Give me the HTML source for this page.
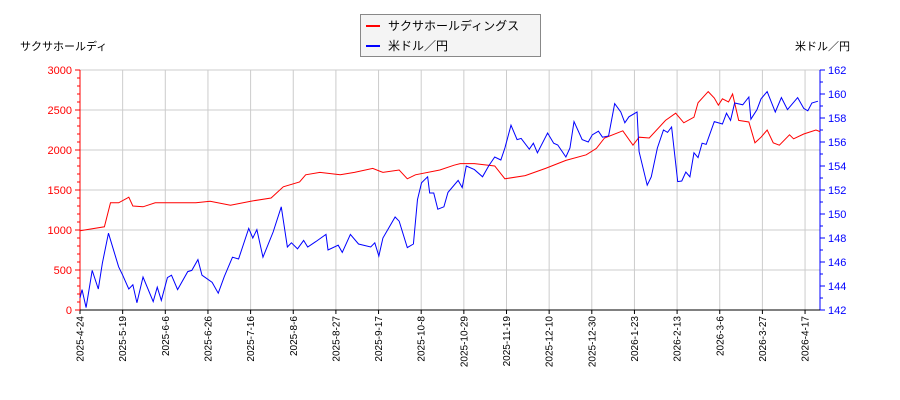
<!DOCTYPE html>
<html><head><meta charset="utf-8"><style>
body{margin:0;background:#fff;}
svg{display:block;font-family:"Liberation Sans","Noto Sans CJK JP",sans-serif;}
</style></head><body>
<svg id="chart" width="900" height="400"></svg>
<script>
const dateLabels=["2025-4-24","2025-5-19","2025-6-6","2025-6-26","2025-7-16","2025-8-6","2025-8-27","2025-9-17","2025-10-8","2025-10-29","2025-11-19","2025-12-10","2025-12-30","2026-1-23","2026-2-13","2026-3-6","2026-3-27","2026-4-17"];
const leftTicks=[0,500,1000,1500,2000,2500,3000];
const rightTicks=[142,144,146,148,150,152,154,156,158,160,162];
const stockDays=[0,12,15,19,24,26,31,37,47,57,64,74,84,94,100,108,111,118,128,135,144,149,157,161,165,177,184,187,194,204,209,219,229,239,249,254,258,267,272,275,280,288,293,297,302,304,309,312,314,316,319,321,324,329,332,335,338,341,344,349,351,356,362,364];
const stockVals=[990,1040,1340,1340,1410,1300,1290,1340,1340,1340,1360,1310,1360,1400,1540,1600,1690,1720,1690,1720,1770,1720,1750,1640,1690,1750,1810,1830,1830,1800,1640,1680,1770,1870,1940,2020,2150,2240,2060,2160,2150,2370,2460,2340,2410,2590,2730,2650,2560,2640,2600,2700,2370,2350,2090,2160,2250,2090,2060,2190,2140,2200,2250,2230];
const fxDays=[0,1,3,6,9,11,14,19,21,24,26,28,31,36,38,40,43,45,48,53,55,58,60,65,68,71,75,78,83,85,87,90,95,99,102,104,107,110,112,116,121,122,127,129,133,137,143,145,147,149,155,157,161,164,166,168,171,172,174,176,179,181,186,188,190,194,198,201,204,207,209,212,215,217,221,223,225,230,233,235,239,241,243,247,250,252,255,257,260,263,266,268,270,274,275,279,281,284,287,289,291,294,296,298,300,302,304,306,308,312,316,318,320,322,326,329,330,333,335,338,342,345,348,353,356,358,360,363];
const fxVals=[143.0,143.7,142.2,145.3,143.75,145.9,148.4,145.6,144.9,143.75,144.1,142.6,144.75,142.7,143.9,142.8,144.7,144.9,143.7,145.2,145.3,146.2,144.9,144.3,143.4,144.8,146.4,146.25,148.8,148,148.7,146.4,148.5,150.6,147.25,147.6,147.1,147.8,147.25,147.7,148.3,147,147.4,146.8,148.3,147.5,147.25,147.6,146.5,148,149.75,149.4,147.2,147.5,151.2,152.6,153.1,151.75,151.75,150.4,150.6,151.8,152.8,152.2,154,153.7,153.1,154,154.75,154.5,155.5,157.4,156.2,156.3,155.4,155.9,155.1,156.75,155.9,155.75,154.75,155.5,157.7,156.2,156,156.6,156.9,156.4,156.5,159.2,158.5,157.6,158.1,158.5,155.2,152.4,153.1,155.5,157,156.8,157.25,152.7,152.75,153.5,153.1,155.1,154.7,155.9,155.8,157.7,157.5,158.4,157.8,159.25,159.1,159.75,157.9,158.7,159.6,160.2,158.5,159.7,158.7,159.7,158.8,158.6,159.25,159.4];

const NS="http://www.w3.org/2000/svg";
const svg=document.getElementById('chart');
const L=80,R=820,T=70,B=310,PXD=2.033,TICKSTEP=42.65;
const xs=d=>L+d*PXD;
const yl=v=>B-(v/3000)*(B-T);
const yr=v=>B-((v-142)/20)*(B-T);
function el(tag,attrs,parent){const e=document.createElementNS(NS,tag);for(const k in attrs)e.setAttribute(k,attrs[k]);(parent||svg).appendChild(e);return e;}

const grid=el('g',{});


dateLabels.forEach((lab,i)=>{
  const x=L+i*TICKSTEP;
  const g=el('line',{x1:x,x2:x,y1:T,y2:B,stroke:'#ccc','stroke-width':1},grid);
  
  
  el('line',{x1:x,x2:x,y1:B,y2:B+4,stroke:'#000'});
  const t=el('text',{x:0,y:0,'font-size':10,'text-anchor':'end',transform:`translate(${x+3.5},${B+6}) rotate(-90)`,fill:'#000'});
  t.textContent=lab;
  
  
});
leftTicks.forEach(v=>{
  const y=yl(v);
  const g=el('line',{x1:L,x2:R,y1:y,y2:y,stroke:'#ccc','stroke-width':1},grid);
  
  
  const t=el('text',{x:L-8,y:y+4,'font-size':11,'text-anchor':'end',fill:'#f00'});
  t.textContent=v;
  
  
});
for(let v=0;v<=3000;v+=100){const y=yl(v);el('line',{x1:L-(v%500?3:5),x2:L,y1:y,y2:y,stroke:'#f00'});}
for(let v=142;v<=162;v+=1){const y=yr(v);el('line',{x1:R,x2:R+(v%2?3:5),y1:y,y2:y,stroke:'#00f'});}
rightTicks.forEach(v=>{
  const t=el('text',{x:R+8,y:yr(v)+4,'font-size':11,fill:'#00f'});
  t.textContent=v;
  
  
});
const la=el('line',{x1:L,x2:L,y1:T,y2:B,stroke:'#f00'});


const ra=el('line',{x1:R,x2:R,y1:T,y2:B,stroke:'#00f'});


el('line',{x1:L,x2:R,y1:B,y2:B,stroke:'#000'});

const sp=el('polyline',{fill:'none',stroke:'#f00','stroke-width':1,points:stockDays.map((d,i)=>xs(d)+','+yl(stockVals[i])).join(' ')});


const fp=el('polyline',{fill:'none',stroke:'#00f','stroke-width':1,points:fxDays.map((d,i)=>xs(d)+','+yr(fxVals[i])).join(' ')});



const lt=el('text',{x:20,y:50,'font-size':11,fill:'#000'});
lt.textContent='サクサホールディ';


const rt=el('text',{x:850,y:50,'font-size':11,fill:'#000','text-anchor':'end'});
rt.textContent='米ドル／円';



const lg=el('g',{});


el('rect',{x:360.5,y:14.5,width:180,height:42,fill:'#f4f4f4',stroke:'#888'},lg);
el('line',{x1:366,x2:380,y1:26,y2:26,stroke:'#f00','stroke-width':2},lg);
el('line',{x1:366,x2:380,y1:46,y2:46,stroke:'#00f','stroke-width':2},lg);
const l1=el('text',{x:388,y:30,'font-size':12,fill:'#000'},lg);
l1.textContent='サクサホールディングス';


const l2=el('text',{x:388,y:50,'font-size':12,fill:'#000'},lg);
l2.textContent='米ドル／円';


</script>
</body></html>
